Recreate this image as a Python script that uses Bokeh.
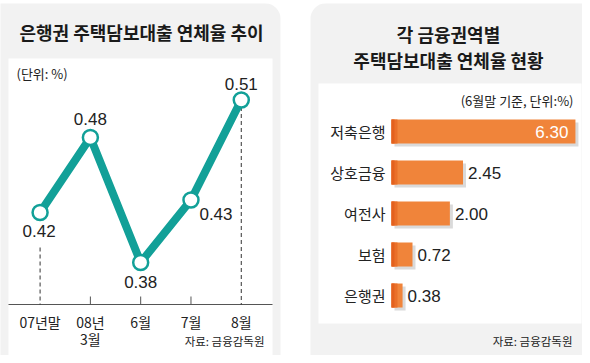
from bokeh.plotting import figure
from bokeh.models import Range1d, BoxAnnotation, ColumnDataSource
from bokeh.core.properties import value
from bokeh.embed import file_html
from bokeh.resources import INLINE

# ---------------- data ----------------
trend_labels = ["07년말", "08년\n3월", "6월", "7월", "8월"]
trend_values = [0.42, 0.48, 0.38, 0.43, 0.51]
trend_text = ["0.42", "0.48", "0.38", "0.43", "0.51"]

sector_names = ["저축은행", "상호금융", "여전사", "보험", "은행권"]
sector_values = [6.30, 2.45, 2.00, 0.72, 0.38]
sector_text = ["6.30", "2.45", "2.00", "0.72", "0.38"]

left_title = "은행권 주택담보대출 연체율 추이"
left_unit = "(단위: %)"
right_title = ["각 금융권역별", "주택담보대출 연체율 현황"]
right_unit = "(6월말 기준, 단위:%)"
source_note = "자료: 금융감독원"

# ---------------- styles ----------------
KR = value("Noto Sans CJK KR")
NUM = value("Liberation Sans")
TEAL = "#12a098"
ORANGE = "#f0843a"
ORANGE_DARK = "#e3611e"
ORANGE_MID = "#ea7029"
CARD = "#f2f2f2"
INK = "#222222"

W, H = 582, 355
p = figure(width=W, height=H, output_backend="svg", toolbar_location=None,
           x_range=Range1d(0, W), y_range=Range1d(H, 0),
           x_axis_location=None, y_axis_location=None, min_border=0)
p.grid.visible = False
p.outline_line_color = None
p.background_fill_color = "white"
p.border_fill_color = "white"

# data ranges placed within the page
p.extra_x_ranges = {"lx": Range1d(-0.787, 10.784), "rx": Range1d(-13.390, 6.542)}
p.extra_y_ranges = {"ly": Range1d(0.3056, 0.5896), "ry": Range1d(5.463, -3.196)}

# ---------------- cards ----------------
for l, r, t, b, c, rad in [(-20, 280, 3, 380, CARD, 15), (310, 620, 3, 380, CARD, 15),
                           (8, 272, 58, 355, "white", 0), (318, 581, 83, 323, "white", 0)]:
    p.add_layout(BoxAnnotation(left=l, right=r, top=t, bottom=b, fill_color=c, fill_alpha=1,
                               line_color=None, border_radius=rad, level="underlay"))

# ---------------- left: line chart ----------------
idx = list(range(len(trend_values)))
AXIS_V = 0.3464   # value at axis baseline
TICK_V = 0.3528
LABEL_BOTTOM_V = 0.392

p.text(x=[141], y=[31], text=[left_title], text_font=KR, text_font_size="18px",
       text_font_style="bold", text_color="#1a1a1a", text_align="center", text_baseline="middle")
p.text(x=[16], y=[73], text=[left_unit], text_font=KR, text_font_size="13px",
       text_color=INK, text_align="left", text_baseline="middle")

# axis line
p.segment(x0=[8], x1=[272], y0=[304], y1=[304], line_color="#555555", line_width=1.2)
mid = idx[1:-1]
p.segment(x0=mid, x1=mid, y0=[TICK_V] * len(mid), y1=[AXIS_V] * len(mid),
          x_range_name="lx", y_range_name="ly", line_color="#555555", line_width=1)
p.segment(x0=[idx[0], idx[-1]], x1=[idx[0], idx[-1]], y0=[LABEL_BOTTOM_V, trend_values[-1]],
          y1=[AXIS_V, AXIS_V], x_range_name="lx", y_range_name="ly",
          line_color="#333333", line_width=1, line_dash="4 3")

p.line(x=idx, y=trend_values, x_range_name="lx", y_range_name="ly",
       line_color=TEAL, line_width=8)
p.scatter(x=idx, y=trend_values, x_range_name="lx", y_range_name="ly", size=15,
          fill_color="white", line_color=TEAL, line_width=2.5)

lsrc = ColumnDataSource(dict(x=idx, y=trend_values, t=trend_text,
                             dx=[-1, 0, 0, 25, 0], dy=[18, -19, 19, 14, -16]))
p.text(x="x", y="y", text="t", source=lsrc, x_offset="dx", y_offset="dy",
       x_range_name="lx", y_range_name="ly", text_font=NUM, text_font_size="17px",
       text_color=INK, text_align="center", text_baseline="middle")

lines1 = [s.split("\n")[0] for s in trend_labels]
lines2 = [s.split("\n")[1] if "\n" in s else "" for s in trend_labels]
p.text(x=idx, y=[311] * len(idx), text=lines1, x_range_name="lx",
       text_font=KR, text_font_size="14px", text_color=INK, text_align="center",
       text_baseline="top")
p.text(x=idx, y=[328] * len(idx), text=lines2, x_range_name="lx",
       text_font=KR, text_font_size="14px", text_color=INK, text_align="center",
       text_baseline="top")
p.text(x=[264], y=[340], text=[source_note], text_font=KR, text_font_size="11.5px",
       text_color=INK, text_align="right", text_baseline="middle")

# ---------------- right: bar chart ----------------
sidx = list(range(len(sector_values)))
p.text(x=[448], y=[33], text=[right_title[0]], text_font=KR, text_font_size="18px",
       text_font_style="bold", text_color="#1a1a1a", text_align="center", text_baseline="middle")
p.text(x=[448], y=[59], text=[right_title[1]], text_font=KR, text_font_size="18px",
       text_font_style="bold", text_color="#1a1a1a", text_align="center", text_baseline="middle")
p.text(x=[573], y=[100], text=[right_unit], text_font=KR, text_font_size="13px",
       text_color=INK, text_align="right", text_baseline="middle")

BAR_H = 0.585
SH_X, SH_Y = 3 / 29.2, 3 / 41
p.hbar(y=[i + SH_Y for i in sidx], left=[SH_X] * len(sidx), right=[v + SH_X for v in sector_values],
       height=BAR_H, x_range_name="rx", y_range_name="ry", fill_color="#dadada", line_color=None)
p.hbar(y=sidx, left=0, right=sector_values, height=BAR_H, x_range_name="rx", y_range_name="ry",
       fill_color=ORANGE, line_color=None)
p.hbar(y=sidx, left=0, right=[min(v, 6 / 29.2) for v in sector_values], height=BAR_H,
       x_range_name="rx", y_range_name="ry", fill_color=ORANGE_MID, line_color=None)
p.hbar(y=sidx, left=0, right=[min(v, 3 / 29.2) for v in sector_values], height=BAR_H,
       x_range_name="rx", y_range_name="ry", fill_color=ORANGE_DARK, line_color=None)

p.text(x=[385] * len(sidx), y=sidx, text=sector_names, y_range_name="ry",
       text_font=KR, text_font_size="15px", text_color=INK, text_align="right",
       text_baseline="middle")

inside = [i for i, v in enumerate(sector_values) if v > 5]
outside = [i for i, v in enumerate(sector_values) if v <= 5]
p.text(x=[sector_values[i] for i in inside], y=inside, text=[sector_text[i] for i in inside],
       x_offset=-7, x_range_name="rx", y_range_name="ry", text_font=NUM, text_font_size="17px",
       text_color="white", text_align="right", text_baseline="middle")
p.text(x=[sector_values[i] for i in outside], y=outside, text=[sector_text[i] for i in outside],
       x_offset=5, x_range_name="rx", y_range_name="ry", text_font=NUM, text_font_size="17px",
       text_color=INK, text_align="left", text_baseline="middle")

p.text(x=[572], y=[340], text=[source_note], text_font=KR, text_font_size="11.5px",
       text_color=INK, text_align="right", text_baseline="middle")

open("out.html", "w").write(file_html(p, INLINE))
